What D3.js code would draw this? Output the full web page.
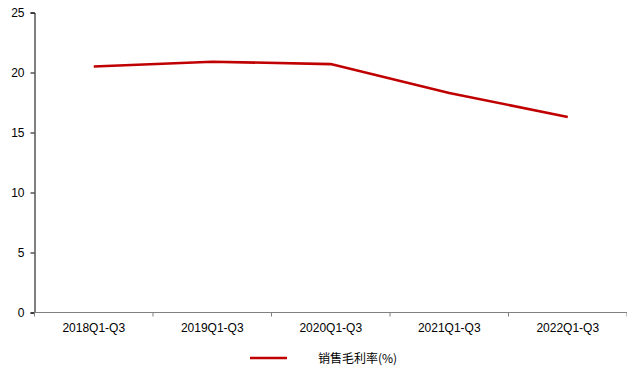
<!DOCTYPE html>
<html>
<head>
<meta charset="utf-8">
<script src="https://cdn.jsdelivr.net/npm/d3@7"></script>
<style>
  body { margin: 0; background: #fff; }
  svg text { font-family: "Liberation Sans", Arial, sans-serif; fill: #000; }
</style>
</head>
<body>
<div id="chart"></div>
<script>
// chart data
const categories = ['2018Q1-Q3', '2019Q1-Q3', '2020Q1-Q3', '2021Q1-Q3', '2022Q1-Q3'];
const grossMargin = [20.5, 20.9, 20.7, 18.3, 16.3];
const yTicks = [0, 5, 10, 15, 20, 25];
const seriesName = '销售毛利率(%)';

const W = 627, H = 369;
const plotLeft = 34.5, plotRight = 627, plotTop = 12.5, plotBottom = 312.5;

const svg = d3.select('#chart').append('svg')
  .attr('width', W)
  .attr('height', H);

const x = d3.scaleBand().domain(categories).range([plotLeft, plotRight]).padding(0);
const y = d3.scaleLinear().domain([0, 25]).range([plotBottom, plotTop]);

// Y axis
const yAxis = svg.append('g')
  .attr('transform', `translate(${plotLeft},0)`)
  .call(d3.axisLeft(y).tickValues(yTicks).tickSize(4).tickPadding(6));
yAxis.select('.domain').attr('stroke', '#000');
yAxis.selectAll('.tick line').attr('stroke', '#000');
yAxis.selectAll('text').style('font-size', '12px').attr('fill', '#000');

// X axis, ticks sit on the band edges
const edges = categories.map(c => x(c)).concat([plotRight]);
const xAxis = svg.append('g').attr('transform', `translate(0,${plotBottom})`);
xAxis.append('line')
  .attr('x1', plotLeft).attr('x2', plotRight)
  .attr('stroke', '#808080').attr('stroke-width', 1.2);
xAxis.selectAll('.edge')
  .data(edges).enter().append('line')
  .attr('x1', d => d).attr('x2', d => d)
  .attr('y1', 0).attr('y2', 4)
  .attr('stroke', '#808080');
xAxis.selectAll('.lbl')
  .data(categories).enter().append('text')
  .attr('x', d => x(d) + x.bandwidth() / 2)
  .attr('y', 19.5)
  .attr('text-anchor', 'middle')
  .style('font-size', '12px')
  .text(d => d);

// Line
const line = d3.line()
  .x((d, i) => x(categories[i]) + x.bandwidth() / 2)
  .y(d => y(d));

svg.append('path')
  .datum(grossMargin)
  .attr('d', line)
  .attr('fill', 'none')
  .attr('stroke', '#C00000')
  .attr('stroke-width', 2.6);

// Legend
const lg = svg.append('g').attr('transform', 'translate(250,358)');
lg.append('line')
  .attr('x1', 0).attr('x2', 37)
  .attr('stroke', '#C00000').attr('stroke-width', 2.6);
lg.append('text')
  .attr('x', 68).attr('y', 4.5)
  .style('font-size', '12px')
  .style('font-family', '"Noto Sans CJK SC", "Liberation Sans", sans-serif')
  .attr('fill', '#333')
  .text(seriesName);
</script>
</body>
</html>
